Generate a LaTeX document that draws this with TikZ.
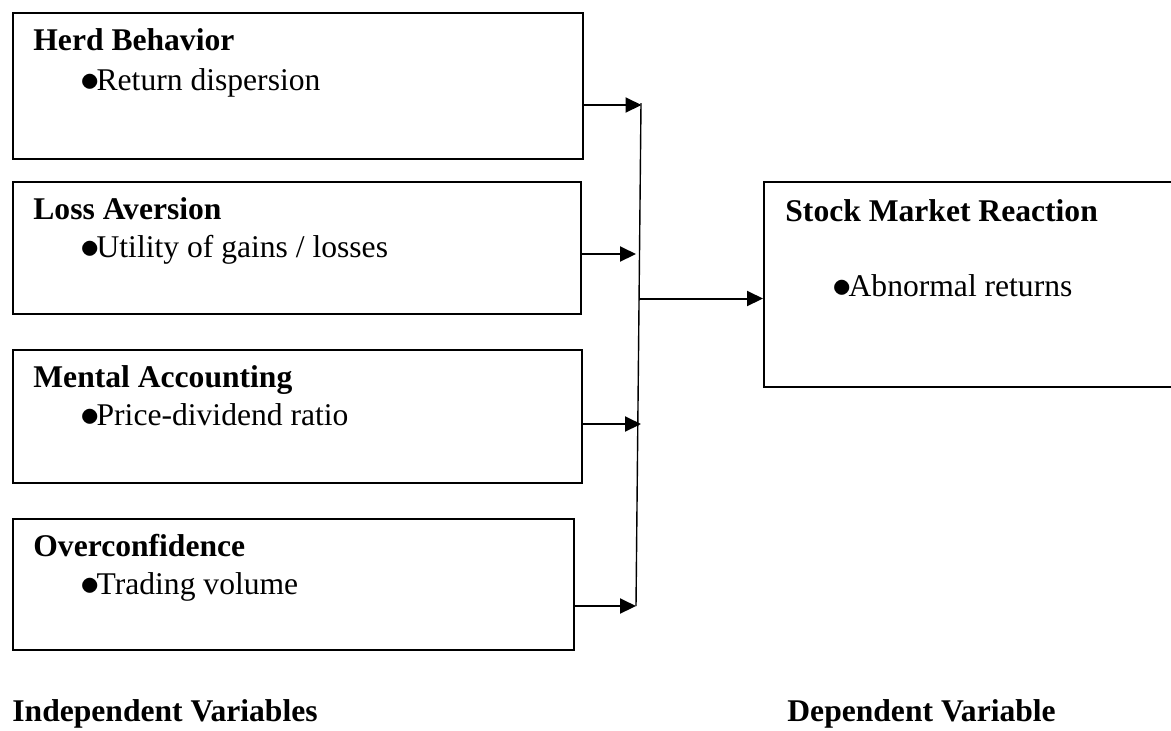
\documentclass[tikz,border=0pt]{standalone}
\usepackage{fontspec}
\setmainfont{Liberation Serif}
\usetikzlibrary{arrows.meta}

\newcommand{\bul}{\raisebox{-0.5pt}{\scalebox{1.35}{$\bullet$}}\kern-1.6pt}

\tikzset{
  varbox/.style={draw, line width=0.75pt, inner sep=0pt, anchor=north west},
  head/.style={anchor=base west, inner sep=0pt, text height=10.5pt, text depth=3pt,
    font=\fontsize{15.8}{19}\selectfont\bfseries},
  item/.style={anchor=base west, inner sep=0pt, text height=10.5pt, text depth=3pt,
    font=\fontsize{15.8}{19}\selectfont},
  link/.style={line width=1pt, -{Triangle[length=8pt,width=7.5pt]}},
}

\begin{document}
\begin{tikzpicture}[x=0.5pt, y=-0.5pt]
  \useasboundingbox (0,0) rectangle (1171,730);

  % Independent variables
  \node[varbox, minimum width=285pt, minimum height=73pt] (herd) at (12,12) {};
  \node[varbox, minimum width=284pt, minimum height=66pt] (loss) at (12,181) {};
  \node[varbox, minimum width=284.5pt, minimum height=66.5pt] (mental) at (12,349) {};
  \node[varbox, minimum width=280.5pt, minimum height=65.5pt] (over) at (12,518) {};

  \node[head] (herdT) at (33,50) {Herd Behavior};
  \node[item] (herdI) at (80,90) {\bul Return dispersion};
  \node[head] (lossT) at (33,219) {Loss Aversion};
  \node[item] (lossI) at (80,257) {\bul Utility of gains / losses};
  \node[head] (mentalT) at (33,387) {Mental Accounting};
  \node[item] (mentalI) at (80,425) {\bul Price-dividend ratio};
  \node[head] (overT) at (33,556) {Overconfidence};
  \node[item] (overI) at (80,594) {\bul Trading volume};

  % Dependent variable
  \node[varbox, minimum width=230pt, minimum height=102.5pt] (stock) at (763,181) {};
  \node[head] (stockT) at (785,221) {Stock Market Reaction};
  \node[item] (stockI) at (832,296) {\bul Abnormal returns};

  % Junction
  \coordinate (top) at (641,103);
  \coordinate (bot) at (636,606);
  \coordinate (j1) at (641.5,105);
  \coordinate (j2) at (636,254);
  \coordinate (j3) at (641,424);
  \coordinate (j4) at (636,606);
  \coordinate (jm) at (640,298.5);

  \draw[line width=0.7pt] (top) -- (bot);
  \draw[link] (herd.east |- j1) -- (j1);
  \draw[link] (loss.east |- j2) -- (j2);
  \draw[link] (mental.east |- j3) -- (j3);
  \draw[link] (over.east |- j4) -- (j4);
  \draw[link] (jm) -- (stock.west |- jm);

  % Captions
  \node[head] (indep) at (12,721) {Independent Variables};
  \node[head] (dep) at (787,721) {Dependent Variable};
\end{tikzpicture}
\end{document}
